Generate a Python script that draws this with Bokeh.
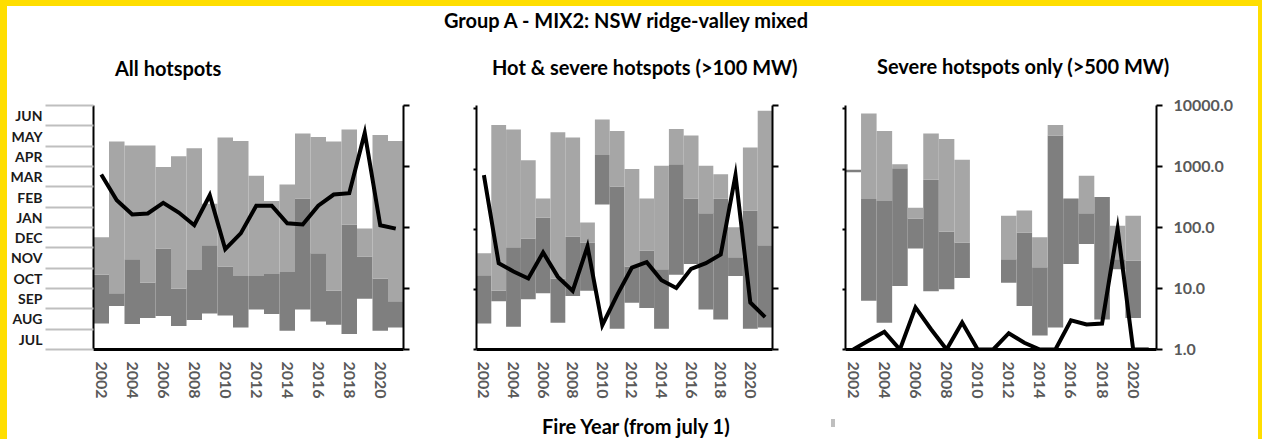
from bokeh.plotting import figure
from bokeh.models import (Range1d, LogScale, LogAxis, FixedTicker, Div, ColumnDataSource,
                          InlineStyleSheet)
from bokeh.layouts import row, column
from bokeh.embed import file_html
from bokeh.resources import INLINE

nan = float("nan")

# ---------------- data ----------------
years = list(range(2002, 2022))
year_ticks = list(range(2002, 2021, 2))
months = ["JUL", "AUG", "SEP", "OCT", "NOV", "DEC", "JAN", "FEB", "MAR", "APR", "MAY", "JUN"]
count_ticks = [1, 10, 100, 1000, 10000]
count_labels = ["1.0", "10.0", "100.0", "1000.0", "10000.0"]

main_title = "Group A - MIX2: NSW ridge-valley mixed"
panel_titles = ["All hotspots", "Hot & severe hotspots (>100 MW)", "Severe hotspots only (>500 MW)"]
x_title = "Fire Year (from july 1)"

# day of fire year (from 1 July): start, middle, end of the bars
all_start = [39, 65, 38, 47, 50, 35, 44, 54, 51, 33, 60, 53, 28, 60, 42, 37, 23, 76, 28, 33]
all_mid = [112, 84, 135, 100, 151, 91, 119, 156, 124, 110, 110, 113, 116, 226, 144, 88, 187, 139, 106, 72]
all_end = [168, 311, 305, 305, 273, 289, 301, 218, 317, 312, 260, 222, 247, 323, 318, 311, 329, 181, 321, 312]
all_count = [741, 280, 163, 170, 253, 176, 109, 338, 44, 80, 228, 228, 117, 112, 228, 347, 366, 3550, 109, 96]

hot_start = [39, 72, 34, 75, 84, 40, 80, 88, 217, 31, 70, 62, 31, 112, 128, 60, 45, 110, 31, 33]
hot_mid = [111, 88, 153, 166, 197, 106, 169, 160, 291, 244, 124, 148, 120, 277, 226, 204, 226, 138, 208, 156]
hot_end = [144, 336, 329, 283, 226, 325, 317, 190, 344, 327, 270, 226, 275, 330, 320, 275, 262, 183, 302, 357]
hot_count = [720, 26, 19, 14.6, 39, 15.5, 9.1, 49, 2.5, 7.8, 22, 27, 13.7, 10.2, 21, 26, 36, 720, 5.9, 3.4]

sev_start = [265, 73, 40, 95, 151, 87, 90, 107, nan, nan, 100, 65, 21, 33, 128, 158, 45, 120, 47, nan]
sev_mid = [269, 225, 222, 271, 196, 254, 176, 160, nan, nan, 135, 175, 123, 320, 226, 204, 228, 135, 133, nan]
sev_end = [269, 353, 327, 277, 212, 323, 315, 284, nan, nan, 200, 208, 168, 336, 226, 260, 228, 185, 200, nan]
sev_count = [1, 1.4, 1.95, 1, 4.9, 2.15, 1, 2.77, 1, 1, 1.85, 1.29, 1, 1, 3.0, 2.57, 2.67, 96, 1, 1]

# ---------------- style ----------------
FONT = "Lato"
DARK = "#7F7F7F"
LIGHT = "#A6A6A6"
YELLOW = "#FFDE00"
TOP, BOTTOM, FRAME_H = 20, 61, 244

div_css = InlineStyleSheet(css=":host { font-size: 0px; line-height: 0px; overflow: hidden; }")


def make_panel(start, mid, end, count, frame_w, left, right,
               month_axis=False, right_labels=False):
    p = figure(frame_width=frame_w, frame_height=FRAME_H, x_range=Range1d(2001.5, 2021.5),
               y_range=Range1d(0, 365), output_backend="svg", toolbar_location=None,
               title_location=None,
               min_border_left=left, min_border_right=right,
               min_border_top=TOP, min_border_bottom=BOTTOM,
               extra_y_ranges={"log": Range1d(1, 10000)},
               extra_y_scales={"log": LogScale()})
    p.outline_line_color = None
    p.grid.visible = False
    p.background_fill_color = "white"
    p.border_fill_color = "white"

    src = ColumnDataSource(dict(x=years, start=start, mid=mid, end=end, count=count))
    p.vbar(x="x", width=1.0, bottom="start", top="mid", fill_color=DARK,
           line_color=None, source=src)
    p.vbar(x="x", width=1.0, bottom="mid", top="end", fill_color=LIGHT,
           line_color=None, source=src)
    p.line(x="x", y="count", y_range_name="log", line_color="black", line_width=4,
           line_join="miter", source=src)

    # x axis
    xa = p.xaxis[0]
    xa.ticker = FixedTicker(ticks=year_ticks, minor_ticks=[])
    xa.major_label_orientation = "vertical"
    xa.major_tick_out = 0
    xa.major_tick_in = 0
    xa.minor_tick_out = 0
    xa.axis_line_width = 3
    xa.axis_line_color = "black"
    xa.major_label_standoff = 12
    xa.major_label_text_font = FONT
    xa.major_label_text_font_style = "bold"
    xa.major_label_text_font_size = "16px"
    xa.major_label_text_color = "#595959"

    # left axis
    ya = p.yaxis[0]
    ya.axis_line_width = 2
    ya.axis_line_color = "black"
    if month_axis:
        centers = [round((k + 0.5) * 365 / 12) for k in range(12)]
        bounds = [k * 365 / 12 for k in range(13)]
        ya.ticker = FixedTicker(ticks=centers, minor_ticks=bounds)
        ya.major_label_overrides = {c: m for c, m in zip(centers, months)}
        ya.major_tick_out = 0
        ya.major_tick_in = 0
        ya.minor_tick_out = 48
        ya.minor_tick_in = 0
        ya.minor_tick_line_color = "#BFBFBF"
        ya.minor_tick_line_width = 2
        ya.major_label_standoff = 3
        ya.major_label_text_font = FONT
        ya.major_label_text_font_style = "bold"
        ya.major_label_text_font_size = "14px"
        ya.major_label_text_color = "#1A1A1A"
    else:
        dt = [0, 90, 180, 270, 360]
        ya.ticker = FixedTicker(ticks=dt, minor_ticks=[])
        ya.major_label_overrides = {d: "" for d in dt}
        ya.major_tick_out = 3
        ya.major_tick_in = 0
        ya.minor_tick_out = 0
        ya.major_tick_line_width = 2

    # right (log) axis
    ra = LogAxis(y_range_name="log", ticker=FixedTicker(ticks=count_ticks, minor_ticks=[]))
    ra.axis_line_width = 2
    ra.axis_line_color = "black"
    ra.major_tick_out = 6
    ra.major_tick_in = 0
    ra.minor_tick_out = 0
    ra.major_tick_line_width = 2
    if right_labels:
        ra.major_label_overrides = {t: s for t, s in zip(count_ticks, count_labels)}
        ra.major_label_standoff = 11
        ra.major_label_text_font = FONT
        ra.major_label_text_font_style = "bold"
        ra.major_label_text_font_size = "16px"
        ra.major_label_text_color = "#595959"
    else:
        ra.major_label_overrides = {t: "" for t in count_ticks}
    p.add_layout(ra, "right")
    return p


p1 = make_panel(all_start, all_mid, all_end, all_count, 310, 86, 37, month_axis=True)
p2 = make_panel(hot_start, hot_mid, hot_end, hot_count, 296, 36, 38)
p3 = make_panel(sev_start, sev_mid, sev_end, sev_count, 311, 35, 102, right_labels=True)

SPAN = ("position:absolute;font-family:Lato;font-weight:bold;font-size:20px;"
        "line-height:24px;color:#000;white-space:nowrap;")


def span(text, left, top):
    t = text.replace("&", "&amp;").replace(">", "&gt;")
    return '<span style="%sleft:%dpx;top:%dpx;">%s</span>' % (SPAN, left, top, t)


header_div = Div(
    text='<div style="position:relative;width:1251px;height:79px;">'
         + span(main_title, 437, 2)
         + span(panel_titles[0], 108, 50)
         + span(panel_titles[1], 485, 49)
         + span(panel_titles[2], 870, 48)
         + '</div>',
    width=1251, height=79, margin=0, stylesheets=[div_css])

xlabel_div = Div(
    text='<div style="position:relative;width:1251px;height:29px;">'
         + span(x_title, 535, 4)
         + '<span style="position:absolute;left:824px;top:9px;width:4px;height:8px;'
           'background:#BFBFBF;"></span></div>',
    width=1251, height=29, margin=0, stylesheets=[div_css])

top_band = Div(text="", width=1251, height=6, margin=0, stylesheets=[div_css],
               styles={"background-color": YELLOW})
left_band = Div(text="", width=7, height=439, margin=0, stylesheets=[div_css],
                styles={"background-color": YELLOW})
right_band = Div(text="", width=4, height=439, margin=0, stylesheets=[div_css],
                 styles={"background-color": YELLOW})

center = column(top_band, header_div, row(p1, p2, p3, spacing=0), xlabel_div, spacing=0)
root = row(left_band, center, right_band, spacing=0)

open("out.html", "w").write(file_html(root, INLINE))
